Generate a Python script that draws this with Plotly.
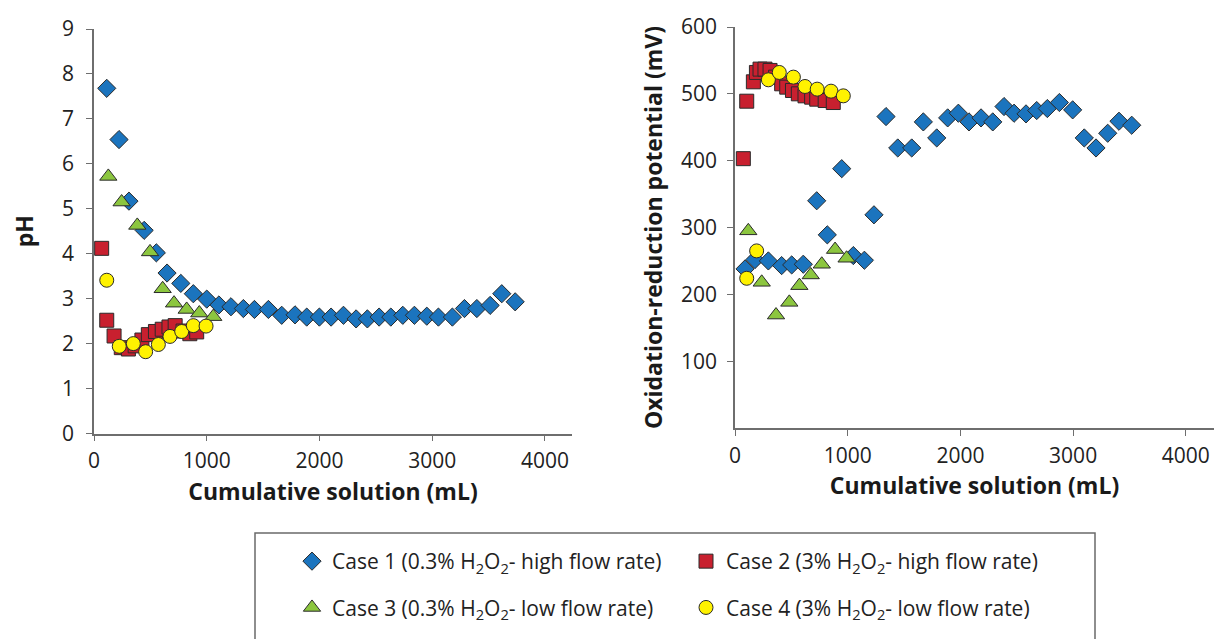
import plotly.graph_objects as go

W, H = 1214, 639

# ---------------- data ----------------
ph_case1_x = [113, 222, 310, 445, 553, 648, 770, 881, 1000, 1108, 1215, 1325, 1423, 1547, 1665, 1783, 1887, 1999,
              2103, 2213, 2325, 2425, 2529, 2633, 2739, 2842, 2952, 3055, 3179, 3286, 3396, 3514, 3617, 3736]
ph_case1_y = [7.68, 6.54, 5.17, 4.52, 4.02, 3.57, 3.34, 3.11, 2.99, 2.86, 2.82, 2.78, 2.76, 2.76, 2.63, 2.64, 2.59, 2.59,
              2.59, 2.63, 2.55, 2.55, 2.59, 2.59, 2.63, 2.63, 2.61, 2.59, 2.59, 2.78, 2.78, 2.85, 3.11, 2.93]

ph_case2_x = [68, 113, 178, 242, 305, 365, 425, 482, 545, 605, 665, 720, 790, 850, 911]
ph_case2_y = [4.12, 2.52, 2.17, 1.91, 1.88, 1.95, 2.08, 2.20, 2.27, 2.32, 2.37, 2.40, 2.28, 2.22, 2.26]

ph_case3_x = [127, 245, 384, 497, 609, 710, 822, 934, 1058]
ph_case3_y = [5.72, 5.15, 4.63, 4.04, 3.22, 2.90, 2.76, 2.68, 2.60]

ph_case4_x = [113, 224, 349, 458, 571, 674, 778, 881, 994]
ph_case4_y = [3.41, 1.94, 2.00, 1.82, 1.98, 2.16, 2.27, 2.40, 2.39]

orp_case1_x = [89, 177, 296, 414, 503, 606, 725, 819, 947, 1050, 1148, 1233, 1340, 1444, 1568, 1671, 1790, 1887,
               1982, 2076, 2183, 2287, 2387, 2476, 2582, 2677, 2771, 2878, 2996, 3099, 3203, 3307, 3407, 3520]
orp_case1_y = [238, 252, 250, 243, 244, 245, 340, 289, 388, 258, 251, 319, 466, 419, 419, 458, 434, 464,
               471, 458, 464, 458, 481, 471, 470, 475, 478, 487, 476, 434, 419, 441, 459, 453]

orp_case2_x = [74, 104, 163, 190, 222, 266, 311, 360, 414, 459, 510, 562, 621, 680, 725, 800, 872]
orp_case2_y = [403, 489, 518, 532, 537, 537, 535, 525, 515, 510, 505, 500, 497, 495, 492, 490, 487]

orp_case3_x = [118, 237, 364, 482, 571, 672, 770, 888, 990]
orp_case3_y = [295, 218, 169, 188, 213, 229, 245, 267, 254]

orp_case4_x = [104, 192, 296, 393, 518, 621, 729, 852, 961]
orp_case4_y = [224, 265, 521, 532, 525, 511, 507, 504, 497]

case_names = [
    "Case 1 (0.3% H<sub>2</sub>O<sub>2</sub>- high flow rate)",
    "Case 2 (3% H<sub>2</sub>O<sub>2</sub>- high flow rate)",
    "Case 3 (0.3% H<sub>2</sub>O<sub>2</sub>- low flow rate)",
    "Case 4 (3% H<sub>2</sub>O<sub>2</sub>- low flow rate)",
]

x_ticks = [0, 1000, 2000, 3000, 4000]
ph_ticks = [0, 1, 2, 3, 4, 5, 6, 7, 8, 9]
orp_ticks = [100, 200, 300, 400, 500, 600]

# ---------------- styles ----------------
FONT = "Open Sans"
OUT = "#2b2b2b"
styles = [
    dict(symbol="diamond", color="#1b74be", size=14),
    dict(symbol="square", color="#c8202f", size=14),
    dict(symbol="triangle-up", color="#8cc63f", size=15),
    dict(symbol="circle", color="#fff200", size=14),
]
legends = ["legend", "legend2", "legend", "legend2"]

ph_data = [(ph_case1_x, ph_case1_y), (ph_case2_x, ph_case2_y), (ph_case3_x, ph_case3_y), (ph_case4_x, ph_case4_y)]
orp_data = [(orp_case1_x, orp_case1_y), (orp_case2_x, orp_case2_y), (orp_case3_x, orp_case3_y), (orp_case4_x, orp_case4_y)]

fig = go.Figure()
for i, (xs, ys) in enumerate(ph_data):
    st = styles[i]
    fig.add_trace(go.Scatter(
        x=xs, y=ys, mode="markers", name=case_names[i], legend=legends[i], legendgroup=f"g{i}",
        marker=dict(symbol=st["symbol"], color=st["color"], size=st["size"], line=dict(color=OUT, width=1)),
        xaxis="x", yaxis="y", cliponaxis=False))
for i, (xs, ys) in enumerate(orp_data):
    st = styles[i]
    fig.add_trace(go.Scatter(
        x=xs, y=ys, mode="markers", name=case_names[i], legendgroup=f"g{i}", showlegend=False,
        marker=dict(symbol=st["symbol"], color=st["color"], size=st["size"], line=dict(color=OUT, width=1)),
        xaxis="x2", yaxis="y2", cliponaxis=False))

def px_x(p):
    return p / W

def px_y(p):
    return 1 - p / H

axis_common = dict(showgrid=False, zeroline=False, showline=True, linecolor="#6e6e6e", linewidth=1.5,
                   ticks="outside", ticklen=6, tickcolor="#6e6e6e", tickwidth=1.2,
                   tickfont=dict(family=FONT, size=21, color="#222"), automargin=False)
title_font = dict(family=FONT, size=23, color="#1a1a1a", weight="bold")

fig.update_layout(
    width=W, height=H,
    margin=dict(l=0, r=0, t=0, b=0),
    paper_bgcolor="white", plot_bgcolor="white",
    xaxis=dict(domain=[px_x(94), px_x(572)], range=[0, 4240], tickvals=x_ticks, anchor="y", ticklabelstandoff=2,
               title=dict(text="Cumulative solution (mL)", font=title_font, standoff=10), **axis_common),
    yaxis=dict(domain=[px_y(433.5), px_y(29)], range=[0, 9], tickvals=ph_ticks, anchor="x", ticklabelstandoff=8,
               title=dict(text="pH", font=title_font, standoff=22), **axis_common),
    xaxis2=dict(domain=[px_x(735), 1.0], range=[0, 4250], tickvals=x_ticks, anchor="y2", ticklabelstandoff=2,
                title=dict(text="Cumulative solution (mL)", font=title_font, standoff=10), **axis_common),
    yaxis2=dict(domain=[px_y(428), px_y(27)], range=[0, 600], tickvals=orp_ticks, anchor="x2", ticklabelstandoff=6,
                title=dict(text="Oxidation-reduction potential (mV)", font=title_font, standoff=12), **axis_common),
    legend=dict(x=px_x(292), y=px_y(541), xanchor="left", yanchor="top", orientation="v",
                font=dict(family=FONT, size=21, color="#222"), bgcolor="rgba(0,0,0,0)",
                tracegroupgap=16, itemsizing="trace"),
    legend2=dict(x=px_x(686), y=px_y(541), xanchor="left", yanchor="top", orientation="v",
                 font=dict(family=FONT, size=21, color="#222"), bgcolor="rgba(0,0,0,0)",
                 tracegroupgap=16, itemsizing="trace"),
    shapes=[dict(type="rect", xref="paper", yref="paper", x0=px_x(255), x1=px_x(1095),
                 y0=px_y(533), y1=-0.02, line=dict(color="#6a6a6a", width=1.5), fillcolor="rgba(0,0,0,0)")],
    showlegend=True,
)

fig.write_html("out.html")
